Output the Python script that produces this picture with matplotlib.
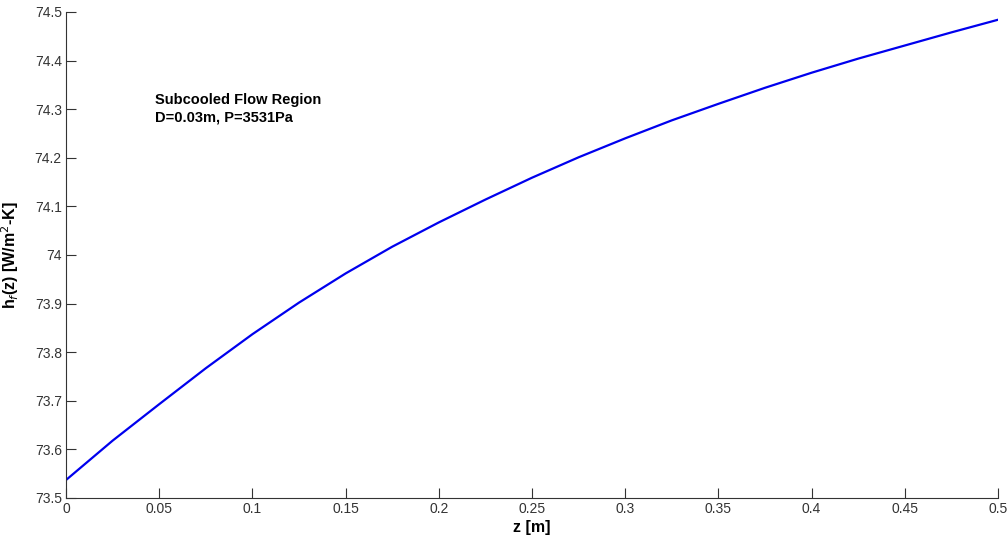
import matplotlib
matplotlib.use('Agg')
from matplotlib import pyplot as plt

# values
z = [0, 0.025, 0.05, 0.075, 0.1, 0.125, 0.15, 0.175, 0.2, 0.225, 0.25,
     0.275, 0.3, 0.325, 0.35, 0.375, 0.4, 0.425, 0.45, 0.475, 0.5]
h = [73.537, 73.618, 73.693, 73.767, 73.837, 73.902, 73.962, 74.017, 74.067,
     74.114, 74.159, 74.201, 74.240, 74.277, 74.311, 74.344, 74.375, 74.404,
     74.431, 74.458, 74.484]

xticks = [0, 0.05, 0.1, 0.15, 0.2, 0.25, 0.3, 0.35, 0.4, 0.45, 0.5]
xticklabels = ['0', '0.05', '0.1', '0.15', '0.2', '0.25', '0.3', '0.35', '0.4', '0.45', '0.5']
yticks = [73.5, 73.6, 73.7, 73.8, 73.9, 74.0, 74.1, 74.2, 74.3, 74.4, 74.5]
yticklabels = ['73.5', '73.6', '73.7', '73.8', '73.9', '74', '74.1', '74.2', '74.3', '74.4', '74.5']

plt.rcParams['font.family'] = ['Liberation Sans', 'DejaVu Sans']

fig = plt.figure(figsize=(10.08, 5.39), dpi=100)
ax = fig.add_axes([0.0655, 0.0761, 0.9246, 0.9017])

ax.plot(z, h, color='#0000ee', linewidth=1.6)

ax.set_xlim(0, 0.5)
ax.set_ylim(73.5, 74.5)
ax.set_xticks(xticks)
ax.set_xticklabels(xticklabels)
ax.set_yticks(yticks)
ax.set_yticklabels(yticklabels)
ax.tick_params(direction='in', length=7, width=0.8, labelsize=10, colors='#333333', pad=3)

for side in ['top', 'right']:
    ax.spines[side].set_visible(False)
for side in ['left', 'bottom']:
    ax.spines[side].set_color('#333333')
    ax.spines[side].set_linewidth(0.8)

ax.set_xlabel('z [m]', fontsize=11.5, fontweight='bold', labelpad=3)
ax.set_ylabel(r'h$_f$(z) [W/m$^2$-K]', fontsize=11.5, fontweight='bold', labelpad=10)

ax.text(0.048, 74.333, 'Subcooled Flow Region\nD=0.03m, P=3531Pa',
        fontsize=10.5, fontweight='bold', linespacing=1.35, va='top', ha='left')

plt.savefig('out.png', dpi=100)
